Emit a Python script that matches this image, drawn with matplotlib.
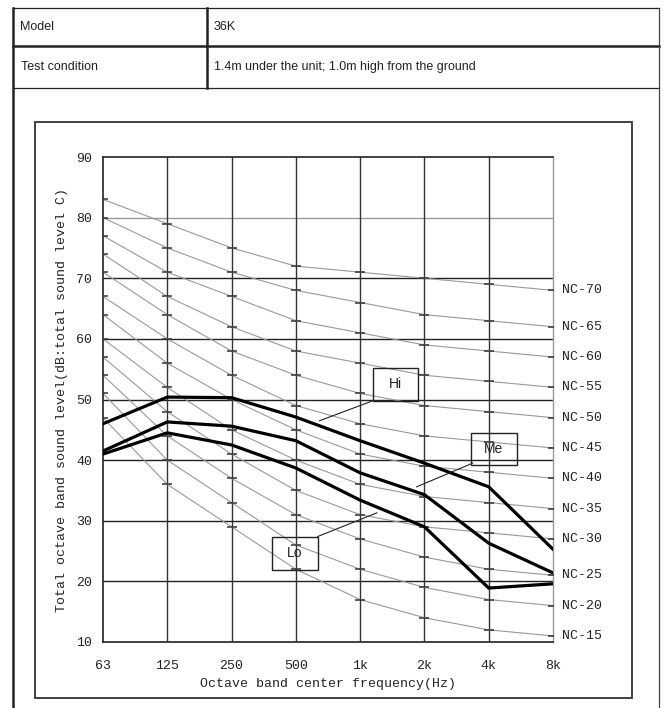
import numpy as np
import matplotlib.pyplot as plt
from matplotlib.patches import Rectangle

# data
freq_labels = ['63', '125', '250', '500', '1k', '2k', '4k', '8k']
hi = [46.0, 50.4, 50.3, 47.1, 43.2, 39.5, 35.6, 25.3]
me = [41.5, 46.3, 45.6, 43.2, 37.9, 34.3, 26.3, 21.4]
lo = [41.0, 44.5, 42.5, 38.7, 33.4, 29.0, 18.9, 19.6]

nc_levels = [15, 20, 25, 30, 35, 40, 45, 50, 55, 60, 65, 70]
nc_15 = [47, 36, 29, 22, 17, 14, 12, 11]
nc_20 = [51, 40, 33, 26, 22, 19, 17, 16]
nc_25 = [54, 44, 37, 31, 27, 24, 22, 21]
nc_30 = [57, 48, 41, 35, 31, 29, 28, 27]
nc_35 = [60, 52, 45, 40, 36, 34, 33, 32]
nc_40 = [64, 56, 50, 45, 41, 39, 38, 37]
nc_45 = [67, 60, 54, 49, 46, 44, 43, 42]
nc_50 = [71, 64, 58, 54, 51, 49, 48, 47]
nc_55 = [74, 67, 62, 58, 56, 54, 53, 52]
nc_60 = [77, 71, 67, 63, 61, 59, 58, 57]
nc_65 = [80, 75, 71, 68, 66, 64, 63, 62]
nc_70 = [83, 79, 75, 72, 71, 70, 69, 68]
nc_curves = [nc_15, nc_20, nc_25, nc_30, nc_35, nc_40,
             nc_45, nc_50, nc_55, nc_60, nc_65, nc_70]

model = '36K'
condition = '1.4m under the unit; 1.0m high from the ground'

W, H = 667, 708
fig = plt.figure(figsize=(W / 100, H / 100), dpi=100)

# background: table frame in pixel coordinates
bg = fig.add_axes([0, 0, 1, 1], zorder=0)
bg.set_xlim(0, W)
bg.set_ylim(H, 0)
bg.axis('off')
tc = '#222222'
bg.plot([13, 659], [8, 8], color=tc, lw=0.9)
bg.plot([13, 659], [46, 46], color=tc, lw=1.8)
bg.plot([13, 659], [88, 88], color=tc, lw=0.9)
bg.plot([13, 13], [8, H], color=tc, lw=1.8)
bg.plot([659, 659], [8, H], color='#444444', lw=0.9)
bg.plot([207, 207], [8, 88], color=tc, lw=1.8)
tfont = dict(family='Liberation Sans', fontsize=9, color='#222222', va='center')
bg.text(20, 27, 'Model', **tfont)
bg.text(214, 27, model, **tfont)
bg.text(21, 67, 'Test condition', **tfont)
bg.text(214, 67, condition, **tfont)
bg.add_patch(Rectangle((35, 122), 597, 576, fill=False, ec='#333333', lw=1.3))

# chart
ax = fig.add_axes([103 / W, 1 - 642 / H, 450 / W, 485 / H], zorder=1)
ax.patch.set_alpha(0)
x = np.arange(len(freq_labels))

for lvl, vals in zip(nc_levels, nc_curves):
    ax.plot(x, vals, color='#999999', lw=0.8, zorder=2)
    ax.plot(x, vals, ls='none', marker='_', ms=7, mew=1.1, color='#333333', zorder=3)
    ax.text(len(x) - 1 + 0.14, vals[-1], f'NC-{lvl}', family='Liberation Mono',
            fontsize=9.5, va='center', ha='left', color='#222222', clip_on=False)

for yv in range(20, 90, 10):
    c = '#999999' if yv == 80 else '#222222'
    ax.axhline(yv, color=c, lw=1.0, zorder=1)
for xv in x[1:-1]:
    ax.axvline(xv, color='#333333', lw=1.0, zorder=1)

for series in (hi, me, lo):
    ax.plot(x, series, color='black', lw=2.3, zorder=5, solid_joinstyle='miter')

# labels with leader lines: (text, box x0, x1, y0, y1, leader from, leader to)
labels = [
    ('Hi', 4.20, 4.90, 49.8, 55.2, (4.20, 49.8), (3.37, 46.5)),
    ('Me', 5.72, 6.44, 39.2, 44.5, (5.75, 39.5), (4.88, 35.6)),
    ('Lo', 2.63, 3.34, 21.9, 27.3, (3.34, 27.4), (4.26, 31.3)),
]
for txt, x0, x1, y0, y1, p0, p1 in labels:
    ax.add_patch(Rectangle((x0, y0), x1 - x0, y1 - y0, fill=False,
                           ec='#222222', lw=1.0, zorder=6))
    ax.text((x0 + x1) / 2, (y0 + y1) / 2, txt, family='Liberation Sans',
            fontsize=10, ha='center', va='center', color='#222222', zorder=6)
    ax.plot([p0[0], p1[0]], [p0[1], p1[1]], color='#222222', lw=0.8, zorder=6)

ax.set_xlim(0, len(x) - 1)
ax.set_ylim(10, 90)
ax.set_xticks(x)
ax.set_xticklabels(freq_labels)
ax.set_yticks(range(10, 91, 10))
ax.tick_params(length=0, labelsize=9.5, colors='#222222')
ax.tick_params(axis='x', pad=13)
ax.tick_params(axis='y', pad=8)
for lab in ax.get_xticklabels() + ax.get_yticklabels():
    lab.set_family('Liberation Mono')
for s in ('left', 'bottom', 'top'):
    ax.spines[s].set_color('#222222')
    ax.spines[s].set_linewidth(1.2)
ax.spines['right'].set_color('#999999')
ax.spines['right'].set_linewidth(1.0)

ax.set_xlabel('Octave band center frequency(Hz)', family='Liberation Mono',
              fontsize=9.5, labelpad=4, color='#222222')
ax.set_ylabel('Total octave band sound level(dB:total sound level C)',
              family='Liberation Mono', fontsize=9.5, labelpad=6, color='#222222')

fig.savefig('out.png', dpi=100)
